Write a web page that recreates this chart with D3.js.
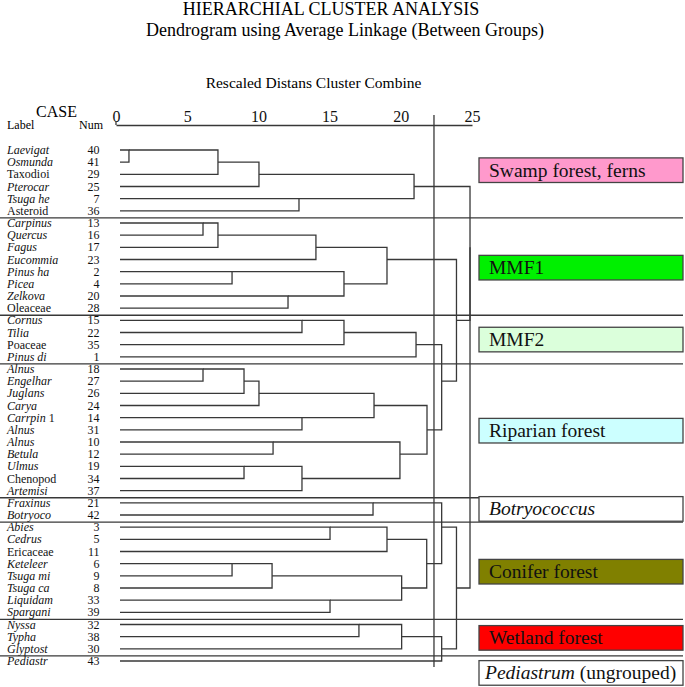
<!DOCTYPE html>
<html><head><meta charset="utf-8">
<script src="https://cdn.jsdelivr.net/npm/d3@7"></script>
<style>
html,body{margin:0;padding:0;background:#fff;}
svg{display:block;font-family:"Liberation Serif","Times New Roman",serif;}
</style></head>
<body>
<svg id="chart" width="685" height="687"></svg>
<script>
// ---------------- DATA ----------------
const leafLabels = ["Laevigat","Osmunda","Taxodioi","Pterocar","Tsuga he","Asteroid",
  "Carpinus","Quercus","Fagus","Eucommia","Pinus ha","Picea","Zelkova","Oleaceae",
  "Cornus","Tilia","Poaceae","Pinus di",
  "Alnus","Engelhar","Juglans","Carya","Carrpin 1","Alnus","Alnus","Betula","Ulmus","Chenopod","Artemisi",
  "Fraxinus","Botryoco",
  "Abies","Cedrus","Ericaceae","Keteleer","Tsuga mi","Tsuga ca","Liquidam","Spargani",
  "Nyssa","Typha","Glyptost","Pediastr"];
const leafNums = [40,41,29,25,7,36, 13,16,17,23,2,4,20,28, 15,22,35,1,
  18,27,26,24,14,31,10,12,19,34,37, 21,42, 3,5,11,6,9,8,33,39, 32,38,30, 43];
// labels that are not genus names (written upright)
const uprightLabels = ["Taxodioi","Asteroid","Oleaceae","Poaceae","Chenopod","Ericaceae"];

// merges: [a, b, rescaled distance]; negative = leaf (1-based row), positive = earlier merge (1-based)
const merges = [
  [-1,-2,0.91],[1,-3,7.16],[2,-4,10.04],[-5,-6,12.85],[3,4,20.93],
  [-7,-8,6.11],[6,-9,7.16],[7,-10,14.04],[-11,-12,8.15],[-13,-14,12.08],[9,10,16.01],[8,11,19.03],
  [-15,-16,13.06],[13,-17,16.01],[14,-18,21.07],
  [-19,-20,6.11],[16,-21,8.99],[17,-22,10.04],[-23,-24,13.06],[18,19,18.12],
  [-25,-26,11.03],[-27,-28,8.99],[22,-29,13.06],[21,23,19.94],[20,24,21.84],
  [15,25,22.87],[12,26,23.91],
  [-30,-31,18.05],[-32,-33,15.03],[29,-34,19.03],[-35,-36,8.15],[31,-37,10.96],[-38,-39,15.03],
  [32,33,20.06],[30,34,21.82],[28,35,22.87],
  [-40,-41,17.06],[37,-42,20.06],[38,-43,22.87],[36,39,23.91],
  [5,27,24.86],[41,40,24.86]
];
const cutDistance = 22.33;
const axisTicks = [0,5,10,15,20,25];

const groupNames = ["Swamp forest, ferns","MMF1","MMF2","Riparian forest","Botryococcus","Conifer forest","Wetland forest","Pediastrum (ungrouped)"];
const groupFirstRow = [0,6,14,18,29,31,39,42];
const groupColors = ["#ff99cc","#00f000","#dbffdb","#ccffff","#ffffff","#808000","#ff0000","#ffffff"];

// ---------------- LAYOUT ----------------
const svg = d3.select("#chart");
const FONT = '"Liberation Serif","Times New Roman",serif';
const LINE = "#383838";
const x = d3.scaleLinear().domain([0,25]).range([116,472]);
const y = d3.scaleLinear().domain([0,leafLabels.length-1]).range([150,661]);
const leafStartX = x(0)+4;

// titles
svg.append("text").attr("x",331).attr("y",15).attr("text-anchor","middle")
  .attr("font-size",18).text("HIERARCHIAL CLUSTER ANALYSIS");
svg.append("text").attr("x",345).attr("y",36).attr("text-anchor","middle")
  .attr("font-size",18).text("Dendrogram using Average Linkage (Between Groups)");
svg.append("text").attr("x",313.5).attr("y",88).attr("text-anchor","middle")
  .attr("font-size",15.5).text("Rescaled Distans Cluster Combine");

// axis
const axis = d3.axisTop(x).tickValues(axisTicks).tickSizeInner(0).tickSizeOuter(0).tickPadding(3);
const ag = svg.append("g").attr("transform","translate(0,125)").call(axis);
ag.select(".domain").attr("stroke",LINE).attr("stroke-width",1.3);
ag.selectAll(".tick text").attr("font-family",FONT).attr("font-size",16).attr("fill","#111");
ag.append("line").attr("x1",x(0)).attr("x2",x(0)).attr("y1",-4).attr("y2",0)
  .attr("stroke",LINE).attr("stroke-width",1.3);

// header
svg.append("text").attr("x",36).attr("y",117).attr("font-size",16).text("CASE");
svg.append("text").attr("x",7).attr("y",129).attr("font-size",12).text("Label");
svg.append("text").attr("x",79).attr("y",129).attr("font-size",12).text("Num");

// leaf labels
leafLabels.forEach((lab,i)=>{
  const t = svg.append("text").attr("x",7).attr("y",y(i)+4).attr("font-size",12).attr("fill","#111");
  if (uprightLabels.includes(lab)) { t.text(lab); }
  else {
    const m = lab.match(/^(.*?)(\s\d+)?$/);
    t.append("tspan").attr("font-style","italic").text(m[1]);
    if (m[2]) t.append("tspan").text(m[2]);
  }
  svg.append("text").attr("x",99.5).attr("y",y(i)+4).attr("text-anchor","end")
    .attr("font-size",12).attr("fill","#111").text(leafNums[i]);
});

// separators
const sepG = svg.append("g");
groupFirstRow.slice(1).forEach(r=>{
  const sy = (y(r-1)+y(r))/2 + 1;
  sepG.append("line").attr("x1",0).attr("x2",683).attr("y1",sy).attr("y2",sy)
    .attr("stroke",LINE).attr("stroke-width",1.3);
});

// dendrogram
const nodes = [];
function node(id){ return id<0 ? {row:-id-1, h:null} : nodes[id-1]; }
const dg = svg.append("g").attr("fill","none").attr("stroke",LINE).attr("stroke-width",1.3);
merges.forEach(([a,b,h])=>{
  const A=node(a), B=node(b);
  const xa = A.h===null ? leafStartX : x(A.h);
  const xb = B.h===null ? leafStartX : x(B.h);
  dg.append("path").attr("d",`M${xa},${y(A.row)}H${x(h)}V${y(B.row)}H${xb}`);
  nodes.push({row:Math.floor((A.row+B.row)/2), h:h});
});

// cut line
svg.append("line").attr("x1",x(cutDistance)).attr("x2",x(cutDistance))
  .attr("y1",115).attr("y2",667).attr("stroke",LINE).attr("stroke-width",1.3);

// group boxes (box centre expressed in row units)
const boxCentreRow = [1.66,9.67,15.58,23.07,29.5,34.66,40.1,42.98];
groupNames.forEach((g,i)=>{
  const cy = y(boxCentreRow[i]);
  svg.append("rect").attr("x",479).attr("y",cy-12.3).attr("width",204).attr("height",24.6)
    .attr("fill",groupColors[i]).attr("stroke","#444").attr("stroke-width",1.3);
  const t = svg.append("text").attr("x",489).attr("y",cy+6.5).attr("font-size",19.5).attr("fill","#111");
  if (g==="Botryococcus") t.append("tspan").attr("font-style","italic").text(g);
  else if (g.startsWith("Pediastrum")) {
    t.attr("x",485);
    t.append("tspan").attr("font-style","italic").text("Pediastrum");
    t.append("tspan").text(" (ungrouped)");
  } else t.text(g);
});
</script>
</body></html>
